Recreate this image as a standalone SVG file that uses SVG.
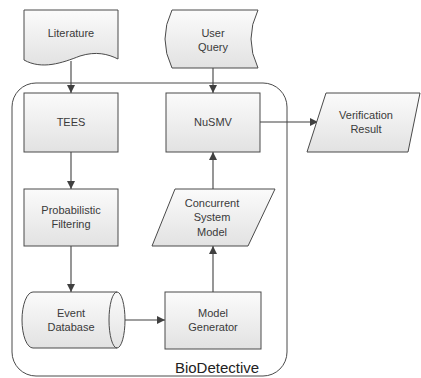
<svg xmlns="http://www.w3.org/2000/svg" width="421" height="378" viewBox="0 0 421 378">
<style>
.n{stroke:#4a4a4a;stroke-width:1;fill:url(#g)}
.t{font-family:"Liberation Sans",Arial,sans-serif;font-size:11px;fill:#3a3a3a;text-anchor:middle;dominant-baseline:central}
.c{stroke:#404040;stroke-width:1.1;fill:none;marker-end:url(#a)}
</style>
<defs>
<linearGradient id="g" x1="0" y1="0" x2="0" y2="1">
<stop offset="0" stop-color="#fbfbfb"/>
<stop offset="1" stop-color="#e2e2e2"/>
</linearGradient>
<marker id="a" viewBox="0 0 10 10" refX="10" refY="5" markerWidth="9" markerHeight="8" markerUnits="userSpaceOnUse" orient="auto">
<path d="M0,0 L10,5 L0,10 Z" fill="#404040"/>
</marker>
</defs>
<g id="container">
<rect x="12" y="83" width="275" height="293" rx="24" fill="none" stroke="#4a4a4a" stroke-width="1"/>
<text x="217" y="367" style="font-family:'Liberation Sans',Arial,sans-serif;font-size:15px;fill:#222;text-anchor:middle;dominant-baseline:central">BioDetective</text>
</g>
<g id="connectors">
<line class="c" x1="71" y1="61" x2="71" y2="93"/>
<line class="c" x1="213" y1="68" x2="213" y2="93"/>
<line class="c" x1="71" y1="152" x2="71" y2="189"/>
<line class="c" x1="71" y1="246" x2="71" y2="292"/>
<line class="c" x1="118" y1="320" x2="165" y2="320"/>
<line class="c" x1="213" y1="292" x2="213" y2="246"/>
<line class="c" x1="213" y1="189" x2="213" y2="152"/>
<line class="c" x1="260" y1="122" x2="318" y2="122"/>
</g>
<g id="literature">
<path class="n" d="M24,10 H118 V59 C108,54 96,51 80,56 C62,63 42,70 24,60 Z"/>
<text class="t" x="71" y="33">Literature</text>
</g>
<g id="userquery">
<path class="n" d="M172,10 H258 Q244,39 258,68 H172 Q158,39 172,10 Z"/>
<text class="t" x="213" y="33">User</text>
<text class="t" x="213" y="47">Query</text>
</g>
<g id="tees">
<rect class="n" x="24" y="93" width="94" height="59"/>
<text class="t" x="71" y="122">TEES</text>
</g>
<g id="nusmv">
<rect class="n" x="166" y="93" width="94" height="59"/>
<text class="t" x="213" y="122">NuSMV</text>
</g>
<g id="verification">
<path class="n" d="M326,93 H420 L408,152 H307 Z"/>
<text class="t" x="366" y="115">Verification</text>
<text class="t" x="366" y="129">Result</text>
</g>
<g id="probabilistic">
<rect class="n" x="24" y="189" width="94" height="57"/>
<text class="t" x="71" y="210">Probabilistic</text>
<text class="t" x="71" y="224">Filtering</text>
</g>
<g id="concurrent">
<path class="n" d="M175,189 H275 L248,246 H152 Z"/>
<text class="t" x="212" y="203">Concurrent</text>
<text class="t" x="212" y="217">System</text>
<text class="t" x="212" y="232">Model</text>
</g>
<g id="eventdb">
<path class="n" d="M33,292 H117 A8,28 0 0 1 117,348 H33 A11,28 0 0 1 33,292 Z"/>
<path d="M117,292 A8,28 0 0 0 117,348" fill="none" stroke="#4a4a4a" stroke-width="1"/>
<text class="t" x="71" y="313">Event</text>
<text class="t" x="71" y="327">Database</text>
</g>
<g id="modelgen">
<rect class="n" x="165" y="292" width="96" height="57"/>
<text class="t" x="213" y="313">Model</text>
<text class="t" x="213" y="327">Generator</text>
</g>
</svg>
